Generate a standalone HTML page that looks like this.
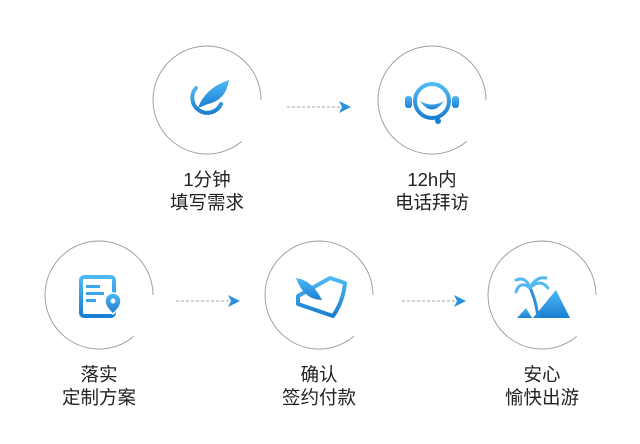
<!DOCTYPE html>
<html><head><meta charset="utf-8"><style>
html,body{margin:0;padding:0;background:#fff;}
svg{display:block}
text{font-family:"Liberation Sans","Noto Sans CJK SC",sans-serif;font-size:18.5px;fill:#222;text-anchor:middle}
</style></head><body>
<svg width="640" height="444" viewBox="0 0 640 444" xmlns="http://www.w3.org/2000/svg">
<defs>
<linearGradient id="g" x1="0" y1="0" x2="0" y2="1"><stop offset="0" stop-color="#4fb8f5"/><stop offset="1" stop-color="#1a7fd0"/></linearGradient>
<g id="arc"><path d="M54 0 A54 54 0 1 0 34.7 41.4" fill="none" stroke="#999" stroke-width="0.9"/></g>
<g id="arr"><line x1="0" y1="0" x2="56" y2="0" stroke="#888" stroke-width="0.8" stroke-dasharray="3,2"/><path d="M52 -6 L64 0 L52 6 L55 0 Z" fill="#2a8fdc"/></g>
</defs>
<use href="#arc" x="207" y="100"/>
<use href="#arc" x="432" y="100"/>
<use href="#arc" x="99" y="295"/>
<use href="#arc" x="319" y="295"/>
<use href="#arc" x="542" y="295"/>
<use href="#arr" x="287" y="107"/>
<use href="#arr" x="176" y="301"/>
<use href="#arr" x="402" y="301"/>
<path d="M196 88 A15 15 0 1 0 221 104" fill="none" stroke="url(#g)" stroke-width="4" stroke-linecap="round"/>
<path d="M198 108 Q205 88 229 80 Q226 100 208 104 Z" fill="url(#g)"/>
<circle cx="432" cy="101" r="17" fill="none" stroke="url(#g)" stroke-width="4"/>
<path d="M420 101 Q432 118 444 101 Q432 108 420 101Z" fill="url(#g)"/>
<rect x="405" y="96" width="7" height="12" rx="3" fill="url(#g)"/>
<rect x="452" y="96" width="7" height="12" rx="3" fill="url(#g)"/>
<circle cx="438" cy="121" r="3" fill="#1a7fd0"/>
<rect x="81" y="277" width="33" height="39" rx="3" fill="none" stroke="url(#g)" stroke-width="4"/>
<rect x="86" y="285" width="14" height="3" fill="#3aa5ec"/><rect x="86" y="292" width="18" height="3" fill="#3aa5ec"/><rect x="86" y="299" width="10" height="3" fill="#3aa5ec"/>
<path d="M113 293 a8 8 0 0 1 8 8 q0 6 -8 13 q-8 -7 -8 -13 a8 8 0 0 1 8 -8z" fill="url(#g)" stroke="#fff" stroke-width="1.5"/>
<circle cx="113" cy="301" r="2.5" fill="#fff"/>
<path d="M298 296 L330 278 L345 283 Q343 302 333 316 L298 304 Z" fill="none" stroke="url(#g)" stroke-width="4" stroke-linejoin="round"/>
<path d="M296 278 Q312 280 322 300 Q304 300 296 278Z" fill="url(#g)"/>
<path d="M533 318 L556 290 L570 318Z" fill="url(#g)"/>
<path d="M517 318 L526 308 L532 318Z" fill="url(#g)"/>
<path d="M530 288 Q536 300 538 318" fill="none" stroke="#2a8fdc" stroke-width="3"/>
<path d="M530 288 Q520 280 516 292 M530 288 Q540 278 548 288 M530 288 Q526 276 516 280 M530 288 Q536 276 546 278" fill="none" stroke="#4fb8f5" stroke-width="3" stroke-linecap="round"/>
<text x="207" y="186">1分钟</text><text x="207" y="209">填写需求</text>
<text x="432" y="186">12h内</text><text x="432" y="209">电话拜访</text>
<text x="99" y="381">落实</text><text x="99" y="404">定制方案</text>
<text x="319" y="381">确认</text><text x="319" y="404">签约付款</text>
<text x="542" y="381">安心</text><text x="542" y="404">愉快出游</text>
</svg>
</body></html>
